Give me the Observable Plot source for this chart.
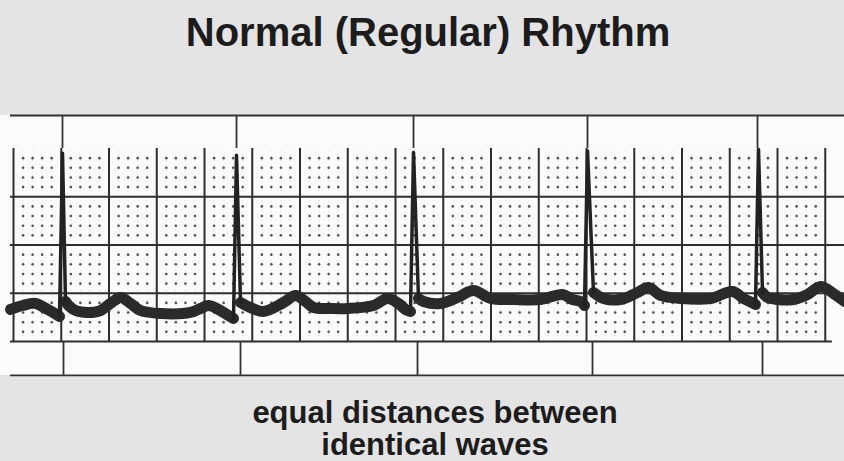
<!DOCTYPE html>
<html>
<head>
<meta charset="utf-8">
<script src="https://cdn.jsdelivr.net/npm/d3@7"></script>
<script src="https://cdn.jsdelivr.net/npm/@observablehq/plot@0.6"></script>
<style>
  html, body { margin: 0; padding: 0; }
  body { width: 844px; height: 461px; background: #e4e4e4; position: relative; overflow: hidden;
         font-family: "Liberation Sans", Arial, Helvetica, sans-serif; color: #1c1c1c; }
  #title { position: absolute; top: 12px; left: 6px; width: 844px; text-align: center;
           font-size: 40px; line-height: 40px; font-weight: bold; }
  #chart { position: absolute; top: 110px; left: 0; }
  .cap { position: absolute; left: 13px; width: 844px; text-align: center;
         font-size: 31px; line-height: 32px; font-weight: bold; }
  #cap1 { top: 397px; }
  #cap2 { top: 429px; }
</style>
</head>
<body>
<div id="title">Normal (Regular) Rhythm</div>
<div id="chart"></div>
<div class="cap" id="cap1">equal distances between</div>
<div class="cap" id="cap2">identical waves</div>
<script>
// ---- data (time in seconds, amplitude in mV) ----
const rT  = [0.2052, 0.9340, 1.6754, 2.4042, 3.1204];
const rMV = [1.950, 1.930, 1.960, 1.975, 1.990];
const qT  = [0.1927, 0.9215, 1.6628, 2.3916, 3.1078];
const qMV = [0.259, 0.238, 0.311, 0.373, 0.383];
const sT  = [0.2178, 0.9508, 1.6963, 2.4293, 3.1372];
const sMV = [0.415, 0.404, 0.446, 0.508, 0.508];

// slow waves (P, ST, T) between the spikes
const wave0 = [[-0.0126,0.332],[0.0377,0.373],[0.0921,0.394],[0.1424,0.332],[0.1801,0.280]];
const wave1 = [[0.2304,0.373],[0.2597,0.321],[0.3099,0.301],[0.3644,0.321],[0.4063,0.394],[0.4482,0.456],[0.4901,0.394],[0.5319,0.321],[0.6157,0.290],[0.7414,0.301],[0.7832,0.342],[0.8168,0.373],[0.8586,0.332],[0.9005,0.269]];
const wave2 = [[0.9927,0.352],[1.0471,0.311],[1.1309,0.404],[1.1812,0.477],[1.2230,0.415],[1.2565,0.352],[1.3277,0.342],[1.3990,0.342],[1.5079,0.373],[1.5665,0.446],[1.6126,0.394],[1.6419,0.332]];
const wave3 = [[1.7173,0.415],[1.7885,0.394],[1.8597,0.456],[1.9267,0.528],[1.9979,0.446],[2.0942,0.435],[2.2073,0.435],[2.2995,0.487],[2.3414,0.435],[2.3749,0.415]];
const wave4 = [[2.4712,0.446],[2.5424,0.435],[2.6136,0.508],[2.6597,0.560],[2.7099,0.477],[2.7937,0.446],[2.9194,0.446],[3.0115,0.518],[3.0576,0.446],[3.0995,0.394]];
const wave5 = [[3.1581,0.456],[3.2000,0.435],[3.2670,0.435],[3.3257,0.487],[3.3801,0.570],[3.4346,0.497],[3.4806,0.415]];

// time markers above and below the grid
const markerTopT    = [0.2052, 0.9340, 1.6754, 2.4042, 3.1162];
const markerBottomT = [0.2094, 0.9508, 1.6921, 2.4251, 3.1372];

// grid
const majorT  = d3.range(0, 3.41, 0.2);
const majorMV = [0.5, 1.0, 1.5];
const minorT  = d3.range(0, 85).map(i => i * 0.04).filter((t, i) => i % 5 !== 0);
const minorMV = d3.range(1, 20).filter(i => i % 5 !== 0).map(i => i * 0.1);

const xDomain = [-0.0545, 3.4806];
const yDomain = [-0.425, 2.394];
const stripTop = 2.342, stripBottom = -0.352;
const lineStart = -0.0126;

// ---- build tables ----
const waves = [wave0, wave1, wave2, wave3, wave4, wave5];
const slow = [];
waves.forEach((w, i) => {
  const pts = [];
  if (i > 0) pts.push([sT[i-1], sMV[i-1]]);
  pts.push(...w);
  if (i < qT.length) pts.push([qT[i], qMV[i]]);
  pts.forEach(([t, v]) => slow.push({t, v, seg: i}));
});
const spikes = [];
rT.forEach((t, i) => {
  spikes.push({t: qT[i], v: qMV[i], beat: i});
  spikes.push({t: rT[i], v: rMV[i], beat: i});
  spikes.push({t: sT[i], v: sMV[i], beat: i});
});
const minorPts = d3.cross(minorT, minorMV).map(([t, v]) => ({t, v}));

const ink = "#2a2a2a";
const chart = Plot.plot({
  width: 844,
  height: 272,
  margin: 0,
  x: {domain: xDomain, axis: null},
  y: {domain: yDomain, axis: null},
  style: {background: "transparent", overflow: "visible"},
  marks: [
    Plot.rect([{}], {x1: xDomain[0], x2: xDomain[1], y1: stripBottom, y2: stripTop, fill: "#fbfbfb"}),
    Plot.ruleX(minorT, {y1: 0, y2: 2.0, stroke: "#ccc", strokeWidth: 0.6, strokeDasharray: "1,4"}),
    Plot.dot(minorPts, {x: "t", y: "v", r: 1.3, fill: "#505050", stroke: null}),
    Plot.ruleX(majorT, {y1: 0, y2: 2.0, stroke: "#2e2e2e", strokeWidth: 2}),
    Plot.ruleY(majorMV, {x1: lineStart, x2: xDomain[1], stroke: "#2e2e2e", strokeWidth: 1.8}),
    Plot.ruleY([0], {x1: lineStart, x2: 3.43, stroke: "#2e2e2e", strokeWidth: 1.8}),
    Plot.ruleY([stripTop, stripBottom], {x1: lineStart, x2: xDomain[1], stroke: "#333", strokeWidth: 1.8}),
    Plot.ruleX(markerTopT, {y1: 2.0, y2: stripTop, stroke: "#333", strokeWidth: 1.8}),
    Plot.ruleX(markerBottomT, {y1: stripBottom, y2: 0, stroke: "#333", strokeWidth: 1.8}),
    Plot.line(slow, {x: "t", y: "v", z: "seg", curve: "catmull-rom", stroke: ink,
      strokeWidth: 11, strokeLinecap: "round", strokeLinejoin: "round"}),
    Plot.line(spikes, {x: "t", y: "v", z: "beat", stroke: "#222", strokeWidth: 3.5,
      strokeLinejoin: "round", strokeLinecap: "round"})
  ]
});
document.getElementById("chart").appendChild(chart);
</script>
</body>
</html>
